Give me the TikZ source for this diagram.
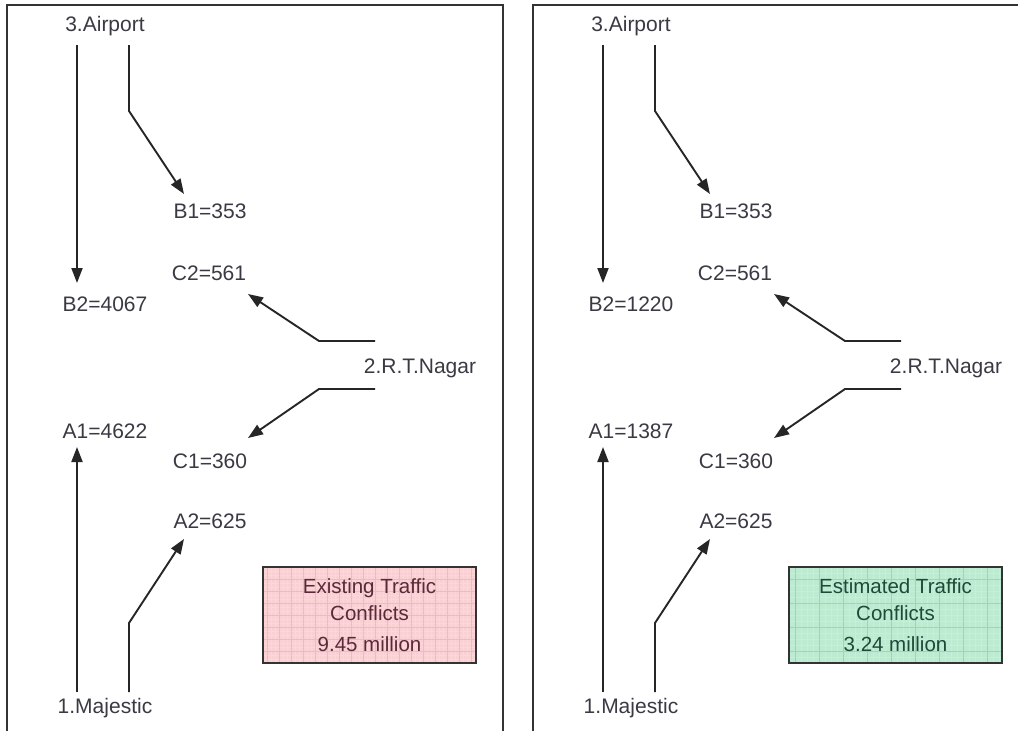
\documentclass[tikz,border=0pt]{standalone}
\usepackage{fontspec}
\setmainfont{Liberation Sans}
\usetikzlibrary{arrows.meta}
\definecolor{txt}{HTML}{3A3A44}
\definecolor{framec}{HTML}{333333}
\definecolor{pinkfill}{HTML}{F9D0D4}
\definecolor{pinkgrid}{HTML}{F0A8B0}
\definecolor{pinktxt}{HTML}{5A2A38}
\definecolor{greenfill}{HTML}{BCEBD2}
\definecolor{greengrid}{HTML}{8AD6AC}
\definecolor{greentxt}{HTML}{1E4A38}
\tikzset{
  lab/.style={font=\fontsize{21}{24}\selectfont, text=txt, inner sep=2pt},
  arr/.style={line width=1.9pt, draw=black!85, -{Triangle[length=15pt,width=11pt]}},
  frame/.style={line width=2.6pt, draw=framec},
  conbox/.style={draw=black!80, line width=2pt, minimum width=213pt, minimum height=96pt,
     align=center, font=\fontsize{20.5}{27}\selectfont, inner sep=0pt},
  pinkbox/.style={conbox, fill=pinkfill, text=pinktxt,
     path picture={\draw[pinkgrid!45, line width=0.4pt, step=4pt] (path picture bounding box.south west) grid (path picture bounding box.north east);
                   \draw[pinkgrid!80, line width=0.6pt, step=12pt] (path picture bounding box.south west) grid (path picture bounding box.north east);}},
  greenbox/.style={conbox, fill=greenfill, text=greentxt,
     path picture={\draw[greengrid!45, line width=0.4pt, step=6pt] (path picture bounding box.south west) grid (path picture bounding box.north east);
                   \draw[greengrid!90, line width=0.7pt, step=24pt] (path picture bounding box.south west) grid (path picture bounding box.north east);}}
}
\newcommand{\drawpanel}[6]{%
  % labels
  \node[lab] (#1air) at (105,26) {3.Airport};
  \node[lab] (#1B1) at (210,211) {B1=353};
  \node[lab] (#1C2) at (209,273) {C2=561};
  \node[lab] (#1B2) at (105,304) {B2=#2};
  \node[lab] (#1rt) at (420,368) {2.R.T.Nagar};
  \node[lab] (#1A1) at (105,431) {A1=#3};
  \node[lab] (#1C1) at (210,461) {C1=360};
  \node[lab] (#1A2) at (210,521) {A2=625};
  \node[lab] (#1maj) at (105,708) {1.Majestic};
  \node[#6] (#1box) at (369.5,615) {#4\\[4pt]#5};
  % connector points
  \coordinate (#1s1) at (77,45);   \coordinate (#1t1) at (77,283);
  \coordinate (#1s2) at (129,45);  \coordinate (#1b2) at (129,111); \coordinate (#1t2) at (184,194);
  \coordinate (#1s3) at (375,341); \coordinate (#1b3) at (319,341); \coordinate (#1t3) at (248,294);
  \coordinate (#1s4) at (375,389); \coordinate (#1b4) at (319,389); \coordinate (#1t4) at (248,438);
  \coordinate (#1s5) at (77,692);  \coordinate (#1t5) at (77,447);
  \coordinate (#1s6) at (129,692); \coordinate (#1b6) at (129,623); \coordinate (#1t6) at (184,539);
  \draw[arr] (#1s1) -- (#1t1);
  \draw[arr] (#1s2) -- (#1b2) -- (#1t2);
  \draw[arr] (#1s3) -- (#1b3) -- (#1t3);
  \draw[arr] (#1s4) -- (#1b4) -- (#1t4);
  \draw[arr] (#1s5) -- (#1t5);
  \draw[arr] (#1s6) -- (#1b6) -- (#1t6);
}
\begin{document}
\begin{tikzpicture}[x=1pt,y=-1pt]
\useasboundingbox (0,0) rectangle (1018,731);
\fill[white] (0,0) rectangle (1018,731);
\draw[frame] (7,731) -- (7,5) -- (503,5) -- (503,731);
\draw[frame] (533,731) -- (533,5) -- (1019,5);
\begin{scope}
\drawpanel{l}{4067}{4622}{Existing Traffic\\Conflicts}{9.45 million}{pinkbox}
\end{scope}
\begin{scope}[xshift=526pt]
\drawpanel{r}{1220}{1387}{Estimated Traffic\\Conflicts}{3.24 million}{greenbox}
\end{scope}
\end{tikzpicture}
\end{document}
